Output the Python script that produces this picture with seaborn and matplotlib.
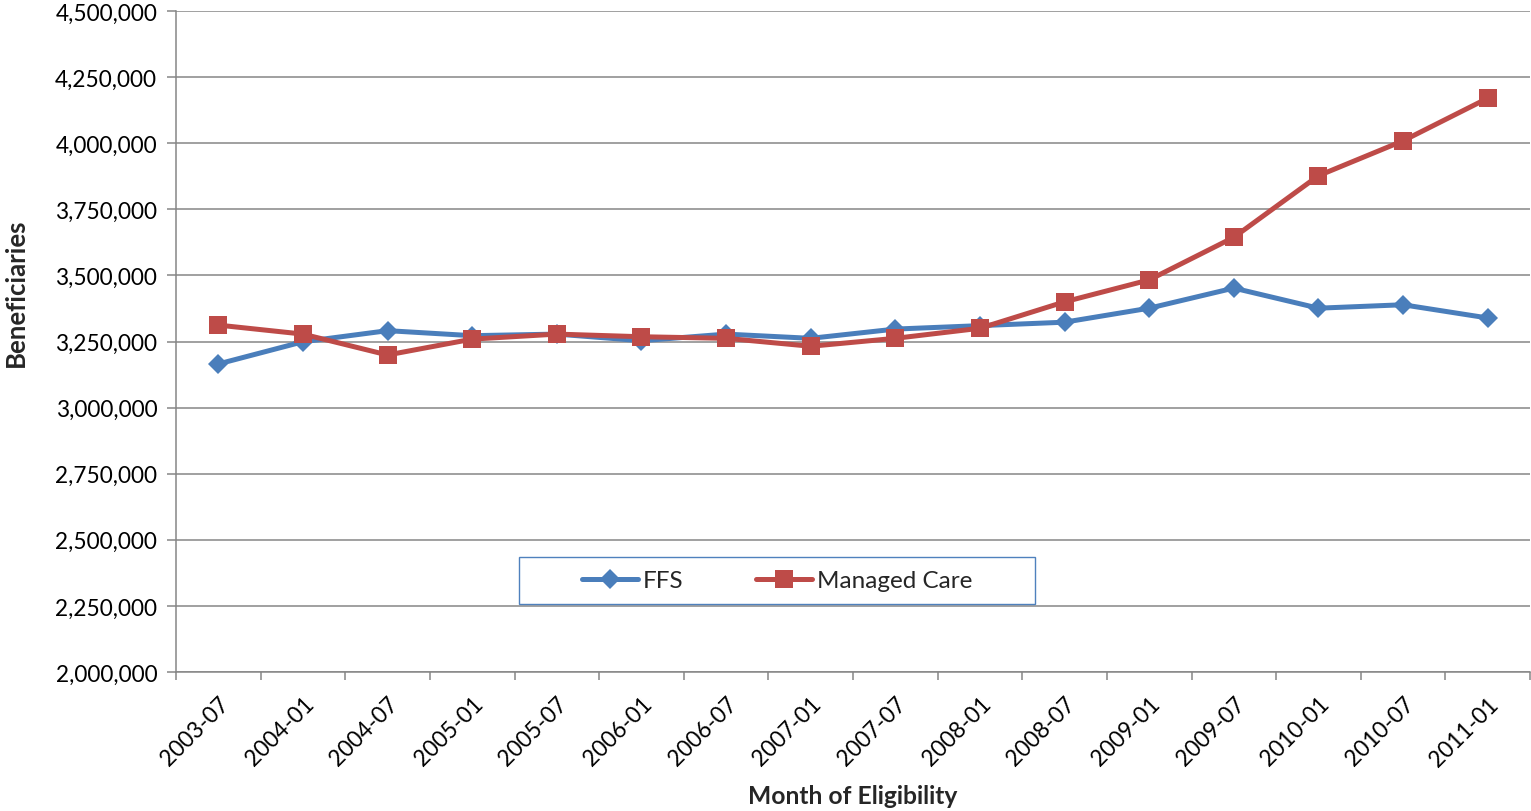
import matplotlib
matplotlib.use("Agg")
import matplotlib.pyplot as plt
import seaborn as sns
import pandas as pd
import numpy as np
from matplotlib.ticker import FuncFormatter
from matplotlib.patches import Rectangle

# Eligibility months (semi-annual snapshots)
months = ["2003-07", "2004-01", "2004-07", "2005-01", "2005-07", "2006-01",
          "2006-07", "2007-01", "2007-07", "2008-01", "2008-07", "2009-01",
          "2009-07", "2010-01", "2010-07", "2011-01"]

# Beneficiary counts by delivery system
ffs = [3165000, 3249000, 3291000, 3272000, 3278000, 3253000, 3278000, 3262000,
       3297000, 3310000, 3323000, 3376000, 3452000, 3376000, 3389000, 3339000]
managed_care = [3312000, 3278000, 3199000, 3259000, 3278000, 3268000, 3262000, 3232000,
                3262000, 3300000, 3400000, 3483000, 3644000, 3877000, 4009000, 4170000]

y_ticks = list(range(2000000, 4500001, 250000))

BLUE = "#4A7EBB"
RED = "#BE4B48"
GRID = "#868686"

sns.set_theme(style="white")
plt.rcParams["font.family"] = ["Lato", "DejaVu Sans"]

ffs_df = pd.DataFrame({"Month": months, "Beneficiaries": ffs})
mc_df = pd.DataFrame({"Month": months, "Beneficiaries": managed_care})

fig = plt.figure(figsize=(15.31, 8.12), dpi=100)
ax = fig.add_axes([176 / 1531, (812 - 673) / 812, (1530 - 176) / 1531, 661 / 812])

sns.lineplot(data=ffs_df, x="Month", y="Beneficiaries", sort=False, ax=ax,
             color=BLUE, lw=3.6, marker="D", markersize=10, markeredgewidth=0,
             label="FFS", zorder=3)
sns.lineplot(data=mc_df, x="Month", y="Beneficiaries", sort=False, ax=ax,
             color=RED, lw=3.6, marker="s", markersize=13.5, markeredgewidth=0,
             label="Managed Care", zorder=4)

# Y axis
ax.set_ylim(y_ticks[0], y_ticks[-1])
ax.set_yticks(y_ticks)
ax.yaxis.set_major_formatter(FuncFormatter(lambda v, p: f"{int(v):,}"))
ax.yaxis.grid(True, color=GRID, lw=1.1)
ax.set_axisbelow(True)
ax.tick_params(axis="y", which="major", left=True, length=6.5, width=1.1,
               color=GRID, pad=7, labelsize=16.3, labelcolor="black")

# X axis: labels centred on categories, tick marks on category boundaries
ax.set_xlim(-0.5, len(months) - 0.5)
ax.set_xticks(range(len(months)))
ax.set_xticklabels(months, rotation=45, ha="right", va="top", rotation_mode="anchor")
ax.set_xticks(np.arange(-0.5, len(months), 1.0), minor=True)
ax.tick_params(axis="x", which="major", bottom=True, length=0, pad=15,
               labelsize=16.3, labelcolor="black")
ax.tick_params(axis="x", which="minor", bottom=True, length=6, width=1.1,
               color=GRID, direction="out")
for lbl in ax.get_xticklabels():
    lbl.set_x(lbl.get_position()[0])

for side in ("top", "right"):
    ax.spines[side].set_visible(False)
for side in ("left", "bottom"):
    ax.spines[side].set_color(GRID)
    ax.spines[side].set_linewidth(1.1)

ax.set_xlabel("Month of Eligibility", fontsize=17.7, fontweight="bold")
ax.set_ylabel("Beneficiaries", fontsize=18.5, fontweight="bold")
ax.xaxis.set_label_coords(0.5, -(785 - 673) / 661)
ax.yaxis.set_label_coords((28 - 176) / 1354, (673 - 293) / 661)

# Legend with a framed box
leg = ax.legend(loc="center", bbox_to_anchor=(0.444, 0.138), ncol=2, frameon=False,
                fontsize=17.5, handlelength=2.3, handletextpad=0.2, columnspacing=3.0)
for h in leg.legend_handles:
    h.set_linewidth(3.6)
ax.add_patch(Rectangle(((519 - 176) / 1354, (673 - 605) / 661), (1035 - 519) / 1354,
                       (605 - 558) / 661, transform=ax.transAxes, fill=False,
                       edgecolor="#4F81BD", lw=1.0, zorder=5))

fig.savefig("out.png", dpi=100)
